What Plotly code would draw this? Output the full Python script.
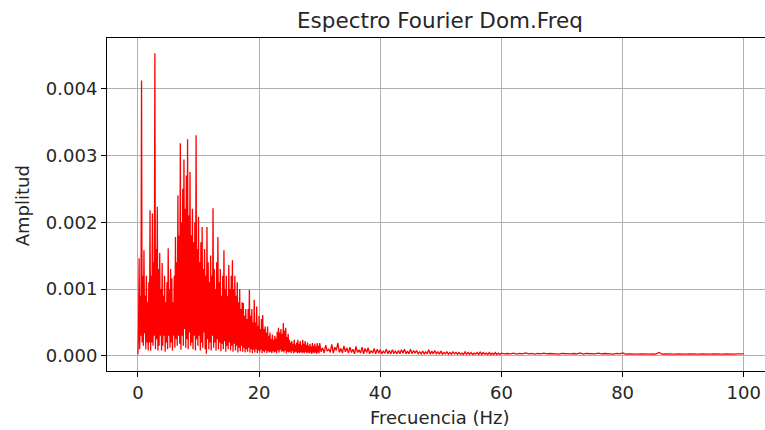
import plotly.graph_objects as go

# ---- data (amplitudes in units of 1e-4) ----
# 0–30 Hz, 0.2 Hz grid: local maxima on grid, local minima half-way between
step_a = 0.2
amp_a_peak = [
    0.2, 14.6, 9.0, 41.2, 12.0,
    15.8, 9.0, 12.0, 8.0, 11.0,
    21.8, 12.0, 21.3, 14.0, 45.3,
    16.0, 22.3, 13.0, 15.4, 10.0,
    13.9, 9.0, 12.0, 8.0, 11.0,
    16.1, 10.0, 13.0, 11.6, 8.0,
    12.0, 17.8, 14.0, 24.0, 18.0,
    31.8, 20.0, 25.0, 29.4, 22.0,
    27.0, 32.4, 21.0, 27.5, 18.0,
    22.0, 17.0, 20.0, 33.0, 16.0,
    20.8, 14.0, 17.0, 19.3, 13.0,
    16.0, 12.0, 19.3, 14.0, 11.0,
    15.0, 12.0, 22.1, 13.0, 10.0,
    14.0, 17.8, 11.0, 13.0, 9.0,
    12.0, 15.8, 10.0, 12.0, 9.0,
    13.6, 10.0, 12.0, 14.3, 10.0,
    12.0, 9.0, 11.0, 8.0, 10.0,
    7.0, 8.0, 7.9, 6.0, 7.0,
    5.5, 7.0, 9.9, 6.0, 7.0,
    5.0, 8.4, 5.0, 7.4, 4.5,
    6.0, 4.0, 5.5, 6.1, 4.0,
    4.4, 3.5, 4.4, 3.0, 3.5,
    2.5, 3.2, 2.4, 3.0, 2.6,
    3.6, 4.2, 3.5, 4.0, 3.3,
    4.9, 3.8, 4.2, 2.8, 3.3,
    2.4, 2.0, 2.2, 1.8, 2.4,
    1.7, 2.0, 2.4, 1.8, 2.2,
    1.6, 2.4, 1.8, 2.2, 1.6,
    2.0, 1.5, 1.8, 1.4, 1.9,
    1.5, 1.8, 1.4, 1.9, 1.5,
]
amp_a_dip = [
    3.4, 1.0, 3.0, 2.0, 1.5,
    3.4, 1.0, 2.0, 0.8, 2.0,
    0.8, 2.0, 1.5, 3.0, 1.0,
    2.5, 0.8, 1.5, 3.0, 0.8,
    1.5, 3.0, 0.6, 2.0, 1.0,
    3.0, 1.2, 2.0, 0.8, 3.0,
    1.2, 2.5, 1.5, 3.0, 1.8,
    0.9, 3.0, 1.5, 4.0, 1.2,
    2.5, 1.0, 3.5, 1.5, 2.0,
    1.0, 3.0, 0.8, 2.5, 1.5,
    3.0, 0.8, 2.0, 1.2, 3.5,
    1.0, 0.3, 2.5, 1.0, 2.0,
    0.8, 3.0, 1.2, 2.0, 0.8,
    2.5, 1.0, 2.0, 0.7, 1.8,
    1.0, 2.2, 0.6, 1.5, 1.0,
    2.0, 0.8, 1.5, 0.6, 1.8,
    0.8, 1.5, 0.5, 1.2, 0.7,
    1.5, 0.6, 1.2, 0.5, 1.0,
    0.6, 1.2, 0.5, 1.0, 0.4,
    0.9, 0.5, 1.0, 0.4, 0.8,
    0.5, 0.9, 0.4, 0.7, 0.5,
    0.8, 0.4, 0.7, 0.5, 0.6,
    0.4, 0.7, 0.5, 0.6, 0.4,
    0.8, 0.5, 0.9, 0.6, 0.7,
    0.5, 0.8, 0.4, 0.6, 0.5,
    0.6, 0.4, 0.7, 0.4, 0.5,
    0.6, 0.4, 0.5, 0.4, 0.6,
    0.4, 0.5, 0.4, 0.6, 0.4,
    0.5, 0.4, 0.5, 0.3, 0.5,
    0.4, 0.5, 0.3, 0.5, 0.4,
]
# 30–60 Hz, 0.5 Hz grid
start_b = 30.0
step_b = 0.5
amp_b_peak = [
    1.9, 1.2, 1.6, 1.0, 1.7, 1.3, 1.9, 1.1, 1.5, 1.2,
    1.3, 1.0, 1.4, 0.9, 1.3, 1.1, 1.2, 0.8, 1.1, 1.0,
    0.9, 0.7, 1.0, 0.8, 0.9, 0.7, 0.8, 0.9, 1.0, 0.7,
    1.0, 0.8, 0.8, 0.6, 0.7, 0.6, 0.9, 0.7, 0.8, 0.6,
    0.7, 0.5, 0.6, 0.5, 0.6, 0.5, 0.5, 0.4, 0.6, 0.5,
    0.5, 0.4, 0.5, 0.6, 0.5, 0.4, 0.5, 0.4, 0.5, 0.4,
]
amp_b_dip = [
    0.6, 0.4, 0.7, 0.5, 0.4, 0.8, 0.5, 0.4, 0.6, 0.4,
    0.5, 0.3, 0.5, 0.4, 0.3, 0.5, 0.3, 0.4, 0.3, 0.4,
    0.3, 0.4, 0.3, 0.3, 0.4, 0.3, 0.3, 0.4, 0.3, 0.3,
    0.3, 0.4, 0.3, 0.3, 0.3, 0.3, 0.25, 0.3, 0.3, 0.25,
    0.25, 0.3, 0.25, 0.25, 0.3, 0.25, 0.25, 0.2, 0.25, 0.25,
    0.2, 0.25, 0.2, 0.2, 0.25, 0.2, 0.2, 0.2, 0.2, 0.2,
]
# 60–100 Hz, 1 Hz grid
start_c = 60.0
step_c = 1.0
amp_c_peak = [
    0.4, 0.35, 0.4, 0.35, 0.45, 0.35, 0.35, 0.4, 0.35, 0.35,
    0.35, 0.35, 0.35, 0.45, 0.35, 0.35, 0.4, 0.35, 0.35, 0.35,
    0.45, 0.3, 0.3, 0.3, 0.3, 0.3, 0.5, 0.3, 0.3, 0.3,
    0.3, 0.3, 0.3, 0.3, 0.3, 0.3, 0.3, 0.3, 0.3, 0.3,
]
amp_c_dip = [
    0.3, 0.3, 0.25, 0.3, 0.3, 0.25, 0.3, 0.3, 0.3, 0.25,
    0.3, 0.3, 0.3, 0.25, 0.3, 0.3, 0.3, 0.3, 0.25, 0.3,
    0.25, 0.25, 0.25, 0.25, 0.25, 0.25, 0.25, 0.25, 0.25, 0.25,
    0.25, 0.25, 0.25, 0.25, 0.25, 0.25, 0.25, 0.25, 0.25, 0.25,
]
end_freq = 100.0
end_amp = 0.3
unit = 1e-4

x_ticks = [0, 20, 40, 60, 80, 100]
y_ticks = [0.000, 0.001, 0.002, 0.003, 0.004]
y_ticktext = ["0.000", "0.001", "0.002", "0.003", "0.004"]

# ---- build trace ----
freq, amp = [], []
for start, step, peaks, dips in [(0.0, step_a, amp_a_peak, amp_a_dip),
                                 (start_b, step_b, amp_b_peak, amp_b_dip),
                                 (start_c, step_c, amp_c_peak, amp_c_dip)]:
    for i, (p, d) in enumerate(zip(peaks, dips)):
        freq.append(start + i * step); amp.append(p * unit)
        freq.append(start + i * step + step / 2); amp.append(d * unit)
freq.append(end_freq); amp.append(end_amp * unit)

fig = go.Figure(go.Scatter(x=freq, y=amp, mode="lines",
                           line=dict(color="red", width=1.3)))

font_fam = "DejaVu Sans"
txt_col = "#262626"
fig.update_layout(
    width=765, height=430,
    margin=dict(l=107, r=0, t=38, b=59),
    plot_bgcolor="white", paper_bgcolor="white",
    showlegend=False,
    font=dict(family=font_fam, size=18, color=txt_col),
    xaxis=dict(range=[-5.1, 103.5], tickvals=x_ticks,
               showgrid=True, gridcolor="#b0b0b0", gridwidth=1,
               zeroline=False, showline=True, linecolor="black", linewidth=1,
               mirror=True, ticks="outside", ticklen=5, tickcolor="black",
               tickfont=dict(size=18)),
    yaxis=dict(range=[-0.000227, 0.004757], tickvals=y_ticks, ticktext=y_ticktext,
               showgrid=True, gridcolor="#b0b0b0", gridwidth=1,
               zeroline=False, showline=True, linecolor="black", linewidth=1,
               mirror=False, ticks="outside", ticklen=5, tickcolor="black",
               tickfont=dict(size=18)),
    annotations=[
        dict(text="Espectro Fourier Dom.Freq", xref="paper", yref="paper",
             x=0.506, y=1.054, xanchor="center", yanchor="middle",
             showarrow=False, font=dict(size=21.5, color=txt_col)),
        dict(text="Frecuencia (Hz)", xref="paper", yref="paper",
             x=0.506, y=-0.141, xanchor="center", yanchor="middle",
             showarrow=False, font=dict(size=18, color=txt_col)),
        dict(text="Amplitud", xref="paper", yref="paper",
             x=-0.129, y=0.495, xanchor="center", yanchor="middle",
             textangle=-90, showarrow=False, font=dict(size=18, color=txt_col)),
    ],
)

fig.write_html("out.html")
